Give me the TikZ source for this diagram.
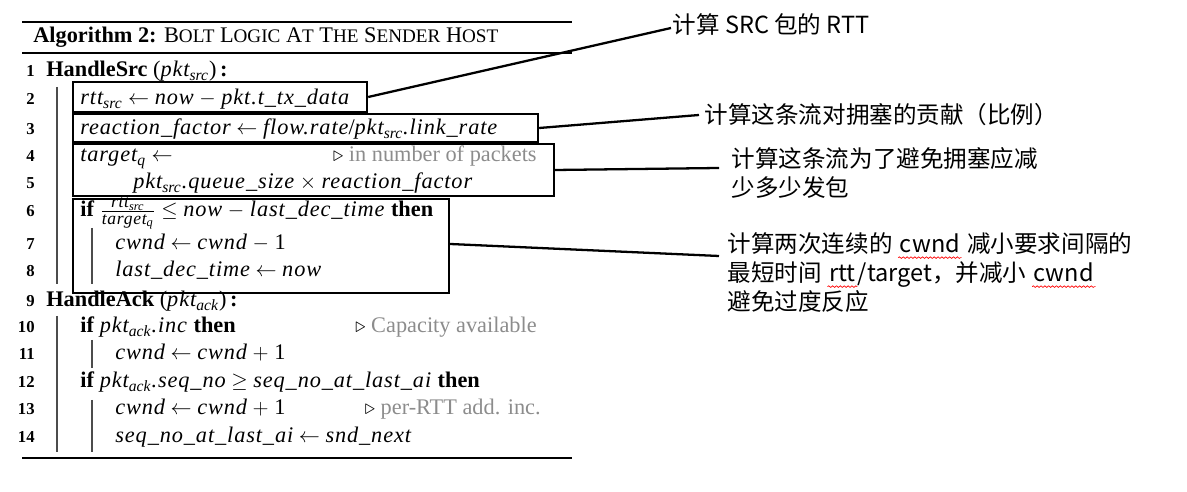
\documentclass[tikz,border=0pt]{standalone}
\usepackage{fontspec}
\setmainfont{Liberation Serif}
\newfontfamily\varfont[LetterSpace=4]{Liberation Serif}
\newfontfamily\cjk{Noto Sans CJK SC}
\usetikzlibrary{decorations.pathmorphing}
\newcommand\redwave[1]{\tikz[baseline=(w.base)]{\node[inner sep=0pt] (w) {#1};
    \draw[red, line width=0.4pt, decorate, decoration={snake, amplitude=0.45pt, segment length=2.2pt}] ([yshift=-1.5pt]w.south west) -- ([yshift=-1.5pt]w.south east);}}
\newcommand\vr[1]{{\varfont\itshape #1}}
\newcommand\sub[1]{\textsubscript{\textit{#1}}}
\newcommand\tri{\textcolor{black}{$\triangleright$}\ }
\newcommand\fsc[2]{#1{\fontsize{10.9}{12}\selectfont #2}}
\begin{document}
\begin{tikzpicture}[x=0.02cm, y=-0.02cm,
    algline/.style={anchor=base west, inner sep=0pt, font=\fontsize{12.7}{15}\selectfont},
    lnum/.style={anchor=base east, inner sep=0pt, font=\fontsize{9.5}{11}\selectfont\bfseries},
    cmt/.style={anchor=base east, inner sep=0pt, text=black!45, font=\fontsize{12.7}{15}\selectfont},
    hlbox/.style={draw, line width=1.4pt, inner sep=0pt},
    note/.style={anchor=west, align=left, inner sep=0pt, outer sep=1pt, font=\cjk\fontsize{13.4}{16.5}\selectfont},
    link/.style={line width=1.3pt},
    vbar/.style={black!70, line width=0.6pt},
    rule/.style={line width=0.7pt}]
    \useasboundingbox (0,0) rectangle (1187,492);
    % rules and title
    \draw[rule] (22,22) -- (572,22);
    \draw[rule] (22,53) -- (572,53);
    \draw[rule] (22,458) -- (572,458);
    \node[algline] (title) at (33,43) {\textbf{Algorithm 2:} \fsc{B}{OLT} \fsc{L}{OGIC} \fsc{A}{T} \fsc{T}{HE} \fsc{S}{ENDER} \fsc{H}{OST}};
    % line numbers
    \foreach \n/\y in {1/77, 2/105, 3/135, 4/162, 5/189, 6/217, 7/250, 8/277, 9/307, 10/333, 11/360, 12/388, 13/415, 14/443}
        {
            \node[lnum] (num\n) at (35,\y) {\n};
        }
    % block bars
    \draw[vbar] (57,87) -- (57,284);
    \draw[vbar] (92,228) -- (92,284);
    \draw[vbar] (57,316) -- (57,452);
    \draw[vbar] (92,340) -- (92,368);
    \draw[vbar] (92,400) -- (92,452);
    % algorithm lines
    \node[algline] (l1) at (46,77) {\textbf{HandleSrc} (\vr{pkt}\sub{src})\,\textbf{:}};
    \node[algline] (l2) at (80,105) {\vr{rtt}\sub{src} $\leftarrow$ \vr{now} $-$ \vr{pkt.t\_tx\_data}};
    \node[algline] (l3) at (80,135) {\vr{reaction\_factor} $\leftarrow$ \vr{flow.rate}/\vr{pkt}\sub{src}\vr{.link\_rate}};
    \node[algline] (l4) at (80,162) {\vr{target}\sub{q} $\leftarrow$};
    \node[cmt] (c4) at (537,162) {\tri in number of packets};
    \node[algline] (l5) at (133,189) {\vr{pkt}\sub{src}\vr{.queue\_size} $\times$ \vr{reaction\_factor}};
    \node[algline] (l6) at (80,217) {\textbf{if} $\frac{\mbox{\fontsize{10}{11}\selectfont\vr{rtt}\sub{src}}}{\mbox{\fontsize{10}{11}\selectfont\vr{target}\sub{q}}}$ $\leq$ \vr{now} $-$ \vr{last\_dec\_time} \textbf{then}};
    \node[algline] (l7) at (115,250) {\vr{cwnd} $\leftarrow$ \vr{cwnd} $-$ 1};
    \node[algline] (l8) at (115,277) {\vr{last\_dec\_time} $\leftarrow$ \vr{now}};
    \node[algline] (l9) at (46,307) {\textbf{HandleAck} (\vr{pkt}\sub{ack})\,\textbf{:}};
    \node[algline] (l10) at (80,333) {\textbf{if} \vr{pkt}\sub{ack}\vr{.inc} \textbf{then}};
    \node[cmt] (c10) at (537,333) {\tri Capacity available};
    \node[algline] (l11) at (115,360) {\vr{cwnd} $\leftarrow$ \vr{cwnd} $+$ 1};
    \node[algline] (l12) at (80,388) {\textbf{if} \vr{pkt}\sub{ack}\vr{.seq\_no} $\geq$ \vr{seq\_no\_at\_last\_ai} \textbf{then}};
    \node[algline] (l13) at (115,415) {\vr{cwnd} $\leftarrow$ \vr{cwnd} $+$ 1};
    \node[cmt] (c13) at (541,415) {\tri per-RTT add. inc.};
    \node[algline] (l14) at (115,443) {\vr{seq\_no\_at\_last\_ai} $\leftarrow$ \vr{snd\_next}};
    % highlight boxes
    \node[hlbox, minimum width=5.88cm, minimum height=0.6cm] (boxrtt) at (220,97) {};
    \node[hlbox, minimum width=9.3cm, minimum height=0.56cm] (boxrate) at (305.5,128) {};
    \node[hlbox, minimum width=9.62cm, minimum height=1.04cm] (boxq) at (313.5,170) {};
    \node[hlbox, minimum width=7.52cm, minimum height=1.88cm] (boxdec) at (261,246) {};
    % notes
    \node[note] (nrtt) at (671,25) {计算 SRC 包的 RTT};
    \node[note] (nrate) at (703,115) {计算这条流对拥塞的贡献（比例）};
    \node[note] (nq) at (730,173) {计算这条流为了避免拥塞应减\\少多少发包};
    \node[note] (ndec) at (726,273) {计算两次连续的 \redwave{cwnd} 减小要求间隔的\\最短时间 \redwave{rtt}/target，并减小 \redwave{cwnd}\\避免过度反应};
    % links
    \draw[link] (boxrtt.east) -- ([yshift=-0.06cm]nrtt.west);
    \draw[link] (boxrate.east) -- ([xshift=-0.08cm]nrate.west);
    \draw[link] (boxq.east) -- ([xshift=-0.22cm,yshift=0.1cm]nq.west);
    \draw[link] ([yshift=0.04cm]boxdec.east) -- ([xshift=-0.14cm,yshift=0.34cm]ndec.west);
\end{tikzpicture}
\end{document}
